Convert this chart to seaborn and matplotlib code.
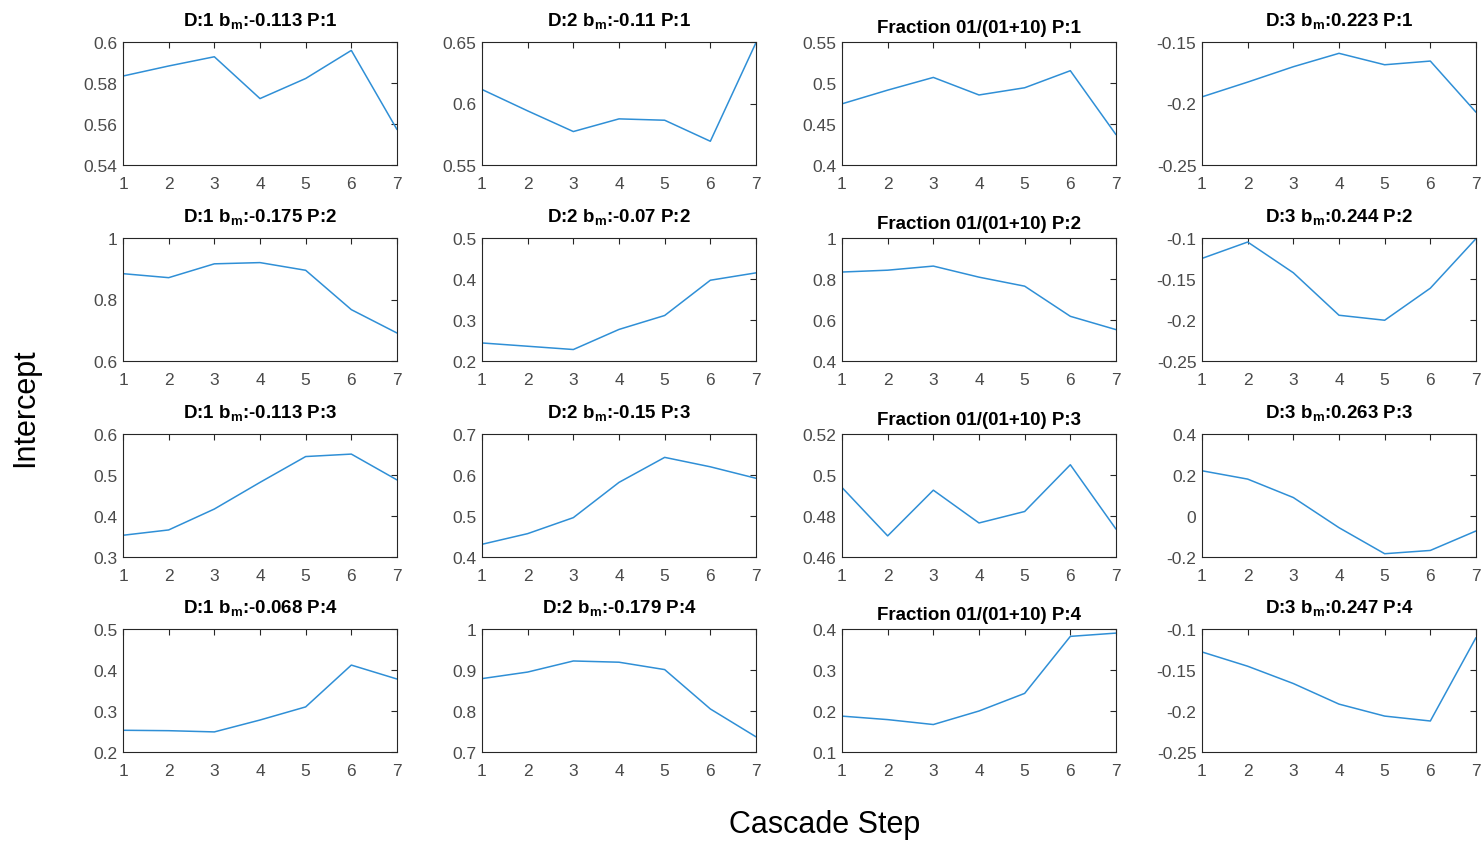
import matplotlib
matplotlib.use("Agg")
import matplotlib.pyplot as plt
import seaborn as sns
import numpy as np
import pandas as pd
from matplotlib.ticker import FuncFormatter, FixedLocator

sns.set_theme(style="white")
plt.rcParams['font.family'] = ['Liberation Sans', 'DejaVu Sans']
plt.rcParams['mathtext.fontset'] = 'custom'
plt.rcParams['mathtext.rm'] = 'Liberation Sans'
plt.rcParams['mathtext.bf'] = 'Liberation Sans:bold'

steps = [1, 2, 3, 4, 5, 6, 7]

# titles (row-major: P:1..P:4 rows, columns D:1, D:2, Fraction, D:3)
titles = [
    ["D:1 b$_\\mathbf{m}$:-0.113 P:1", "D:2 b$_\\mathbf{m}$:-0.11 P:1", "Fraction 01/(01+10) P:1", "D:3 b$_\\mathbf{m}$:0.223 P:1"],
    ["D:1 b$_\\mathbf{m}$:-0.175 P:2", "D:2 b$_\\mathbf{m}$:-0.07 P:2", "Fraction 01/(01+10) P:2", "D:3 b$_\\mathbf{m}$:0.244 P:2"],
    ["D:1 b$_\\mathbf{m}$:-0.113 P:3", "D:2 b$_\\mathbf{m}$:-0.15 P:3", "Fraction 01/(01+10) P:3", "D:3 b$_\\mathbf{m}$:0.263 P:3"],
    ["D:1 b$_\\mathbf{m}$:-0.068 P:4", "D:2 b$_\\mathbf{m}$:-0.179 P:4", "Fraction 01/(01+10) P:4", "D:3 b$_\\mathbf{m}$:0.247 P:4"],
]

# series values
d1_p1 = [0.5834, 0.5883, 0.5928, 0.5724, 0.5822, 0.5959, 0.5573]
d2_p1 = [0.6114, 0.5940, 0.5772, 0.5875, 0.5864, 0.5693, 0.6495]
fr_p1 = [0.4746, 0.4913, 0.5068, 0.4854, 0.4942, 0.5150, 0.4370]
d3_p1 = [-0.1946, -0.1826, -0.1701, -0.1592, -0.1685, -0.1655, -0.2071]

d1_p2 = [0.884, 0.871, 0.916, 0.920, 0.895, 0.767, 0.691]
d2_p2 = [0.244, 0.236, 0.228, 0.277, 0.311, 0.397, 0.415]
fr_p2 = [0.834, 0.843, 0.863, 0.809, 0.765, 0.618, 0.553]
d3_p2 = [-0.1249, -0.1049, -0.1424, -0.1942, -0.2003, -0.1612, -0.1008]

d1_p3 = [0.353, 0.366, 0.417, 0.482, 0.545, 0.551, 0.488]
d2_p3 = [0.431, 0.457, 0.496, 0.582, 0.643, 0.620, 0.592]
fr_p3 = [0.4939, 0.4703, 0.4926, 0.4766, 0.4822, 0.5050, 0.4736]
d3_p3 = [0.2206, 0.180, 0.090, -0.057, -0.184, -0.168, -0.073]

d1_p4 = [0.253, 0.252, 0.249, 0.278, 0.310, 0.412, 0.378]
d2_p4 = [0.879, 0.895, 0.922, 0.919, 0.901, 0.805, 0.737]
fr_p4 = [0.1875, 0.179, 0.167, 0.200, 0.243, 0.382, 0.390]
d3_p4 = [-0.128, -0.1454, -0.1665, -0.1916, -0.2062, -0.2122, -0.1105]

series = [
    [d1_p1, d2_p1, fr_p1, d3_p1],
    [d1_p2, d2_p2, fr_p2, d3_p2],
    [d1_p3, d2_p3, fr_p3, d3_p3],
    [d1_p4, d2_p4, fr_p4, d3_p4],
]

# y tick values per panel
yticks = [
    [[0.54, 0.56, 0.58, 0.6], [0.55, 0.6, 0.65], [0.4, 0.45, 0.5, 0.55], [-0.25, -0.2, -0.15]],
    [[0.6, 0.8, 1.0], [0.2, 0.3, 0.4, 0.5], [0.4, 0.6, 0.8, 1.0], [-0.25, -0.2, -0.15, -0.1]],
    [[0.3, 0.4, 0.5, 0.6], [0.4, 0.5, 0.6, 0.7], [0.46, 0.48, 0.5, 0.52], [-0.2, 0.0, 0.2, 0.4]],
    [[0.2, 0.3, 0.4, 0.5], [0.7, 0.8, 0.9, 1.0], [0.1, 0.2, 0.3, 0.4], [-0.25, -0.2, -0.15, -0.1]],
]

W, H = 1484, 845
fig = plt.figure(figsize=(W / 100, H / 100), dpi=100)

col_left = [123, 482, 842, 1202]
col_w = 274
row_top = [43, 239, 435, 630]
row_h = 123

line_color = '#2f8fd6'
axis_color = '#262626'
label_color = '#4a4a4a'

def fmt(v, pos):
    v = round(v, 6)
    if abs(v) < 1e-9:
        return "0"
    return f"{v:g}"

for r in range(4):
    for c in range(4):
        left = col_left[c] / W
        bottom = 1 - (row_top[r] + row_h) / H
        ax = fig.add_axes([left, bottom, col_w / W, row_h / H])
        df = pd.DataFrame({"step": steps, "val": series[r][c]})
        sns.lineplot(data=df, x="step", y="val", ax=ax, color=line_color, linewidth=1.1)
        ax.set_xlim(1, 7)
        yt = yticks[r][c]
        ax.set_ylim(yt[0], yt[-1])
        ax.xaxis.set_major_locator(FixedLocator(steps))
        ax.yaxis.set_major_locator(FixedLocator(yt))
        ax.yaxis.set_major_formatter(FuncFormatter(fmt))
        ax.set_xlabel("")
        ax.set_ylabel("")
        ax.tick_params(direction='in', top=True, right=True, length=4, width=0.8,
                       color=axis_color, labelsize=12.5, labelcolor=label_color, pad=4)
        ax.tick_params(axis='x', pad=8)
        for s in ax.spines.values():
            s.set_visible(True)
            s.set_color(axis_color)
            s.set_linewidth(0.8)
        is_frac = titles[r][c].startswith("Fraction")
        ax.set_title(titles[r][c], fontsize=13.5, fontweight='bold', color='black',
                     pad=(7.0 if is_frac else 12.0))
        ax.grid(False)

fig.text(25 / W, 1 - 408 / H, "Intercept", rotation=90, ha='center', va='center',
         fontsize=22, color='black')
fig.text(825 / W, 1 - 825 / H, "Cascade Step", ha='center', va='center',
         fontsize=22, color='black')

fig.savefig("out.png", dpi=100, facecolor='white')
